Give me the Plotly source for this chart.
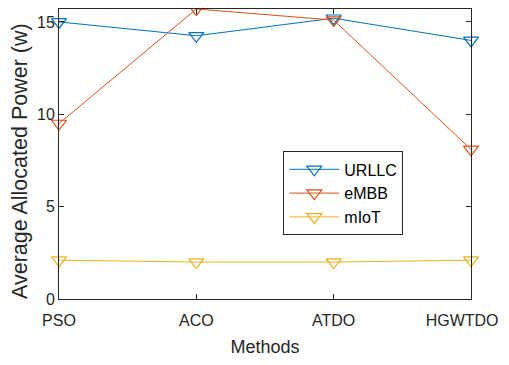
import plotly.graph_objects as go

methods = ["PSO", "ACO", "ATDO", "HGWTDO"]
urllc = [15.0, 14.25, 15.2, 14.0]
embb = [9.5, 15.7, 15.1, 8.1]
miot = [2.1, 2.0, 2.0, 2.1]

colors = ["#0072BD", "#D95319", "#EDB120"]
names = ["URLLC", "eMBB", "mIoT"]
series = [urllc, embb, miot]

# last label padded with non-breaking spaces so it is not clipped at the window edge
tick_text = methods[:-1] + [methods[-1] + "&nbsp;" * 4]

fig = go.Figure()
for n, s, c in zip(names, series, colors):
    fig.add_trace(go.Scatter(
        x=list(range(len(methods))), y=s, name=n, mode="lines+markers",
        line=dict(color=c, width=1),
        marker=dict(symbol="triangle-down-open", size=13, color=c, line=dict(width=1.2, color=c)),
        cliponaxis=False,
    ))

axis_common = dict(showline=True, linecolor="#262626", linewidth=1, mirror="ticks",
                   ticks="inside", ticklen=5, tickcolor="#262626", showgrid=False, zeroline=False,
                   automargin=False, ticklabeloverflow="allow",
                   tickfont=dict(size=16, color="#262626"))

# page body has an 8px margin; keep the page within the window and place the plot area as in the reference
OFF = 8
W, H = 509 - OFF, 365 - 2 * OFF
L, R, T, B = 58.7 - OFF, 38.3, 9.3 - OFF, 65.7 - OFF
pw, ph = W - L - R, H - T - B

fig.update_layout(
    width=W, height=H,
    margin=dict(l=L, r=R, t=T, b=B),
    paper_bgcolor="white", plot_bgcolor="white",
    font=dict(family="Liberation Sans, Arial, sans-serif", color="#262626"),
    xaxis=dict(range=[0, 3], tickvals=list(range(len(methods))), ticktext=tick_text,
               ticklabelstandoff=7,
               title=dict(text="Methods", font=dict(size=18), standoff=16), **axis_common),
    yaxis=dict(range=[0, 15.7], tickvals=[0, 5, 10, 15], **axis_common),
    legend=dict(x=(283 - OFF - L) / pw, y=(H - B - (151.7 - OFF)) / ph, xanchor="left", yanchor="top",
                bgcolor="white", bordercolor="#262626", borderwidth=1, itemwidth=50,
                font=dict(size=16, color="#000000"), tracegroupgap=0),
    showlegend=True,
    annotations=[dict(text="Average Allocated Power (w)", textangle=-90, showarrow=False,
                      xref="paper", yref="paper", x=(19 - OFF - L) / pw,
                      y=(H - B - (161 - OFF)) / ph, xanchor="center", yanchor="middle",
                      font=dict(size=21.5, color="#262626"))],
)

fig.write_html("out.html")
